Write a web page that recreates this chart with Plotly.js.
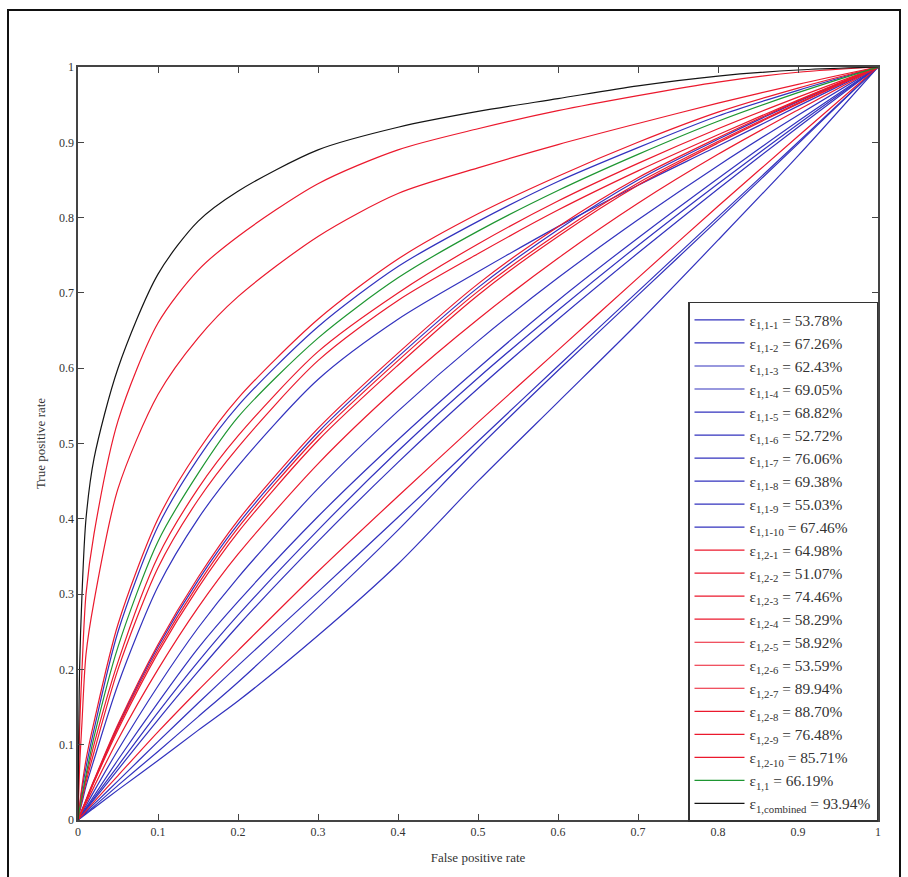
<!DOCTYPE html>
<html>
<head>
<meta charset="utf-8">
<script src="https://cdn.plot.ly/plotly-3.0.1.min.js"></script>
<style>html,body{margin:0;padding:0;background:#fff}#chart{width:908px;height:877px}</style>
</head>
<body>
<div id="chart"></div>
<script>
// False positive rate grid shared by all curves
const fpr = [0, 0.002, 0.005, 0.01, 0.02, 0.05, 0.1, 0.15, 0.2, 0.3, 0.4, 0.5, 0.6, 0.7, 0.8, 0.9, 1];

// Legend labels (subscript) and AUC values
const subs = ["1,1-1","1,1-2","1,1-3","1,1-4","1,1-5","1,1-6","1,1-7","1,1-8","1,1-9","1,1-10",
              "1,2-1","1,2-2","1,2-3","1,2-4","1,2-5","1,2-6","1,2-7","1,2-8","1,2-9","1,2-10",
              "1,1","1,combined"];
const auc = ["53.78","67.26","62.43","69.05","68.82","52.72","76.06","69.38","55.03","67.46",
             "64.98","51.07","74.46","58.29","58.92","53.59","89.94","88.70","76.48","85.71",
             "66.19","93.94"];

// True positive rates
const tpr_1_1  = [0, 0.0018, 0.0046, 0.0092, 0.018, 0.046, 0.091, 0.137, 0.183, 0.282, 0.385, 0.494, 0.597, 0.697, 0.797, 0.898, 1];
const tpr_1_2  = [0, 0.003, 0.0073, 0.0145, 0.029, 0.072, 0.143, 0.21, 0.272, 0.385, 0.49, 0.587, 0.677, 0.763, 0.845, 0.924, 1];
const tpr_1_3  = [0, 0.0027, 0.0067, 0.0134, 0.027, 0.067, 0.133, 0.197, 0.258, 0.37, 0.475, 0.573, 0.665, 0.753, 0.838, 0.92, 1];
const tpr_1_4  = [0, 0.0054, 0.0132, 0.026, 0.052, 0.125, 0.23, 0.318, 0.393, 0.515, 0.615, 0.707, 0.784, 0.85, 0.904, 0.954, 1];
const tpr_1_5  = [0, 0.0038, 0.0095, 0.019, 0.038, 0.093, 0.178, 0.255, 0.322, 0.44, 0.543, 0.636, 0.72, 0.797, 0.869, 0.936, 1];
const tpr_1_6  = [0, 0.0016, 0.004, 0.008, 0.016, 0.04, 0.079, 0.119, 0.158, 0.245, 0.34, 0.45, 0.555, 0.66, 0.77, 0.882, 1];
const tpr_1_7  = [0, 0.018, 0.04, 0.07, 0.12, 0.25, 0.39, 0.48, 0.55, 0.655, 0.735, 0.795, 0.848, 0.893, 0.935, 0.969, 1];
const tpr_1_8  = [0, 0.01, 0.023, 0.045, 0.08, 0.18, 0.31, 0.40, 0.47, 0.585, 0.665, 0.728, 0.788, 0.843, 0.895, 0.948, 1];
const tpr_1_9  = [0, 0.0021, 0.0052, 0.0105, 0.021, 0.052, 0.104, 0.155, 0.205, 0.303, 0.402, 0.503, 0.603, 0.702, 0.801, 0.9, 1];
const tpr_1_10 = [0, 0.0032, 0.008, 0.016, 0.032, 0.08, 0.156, 0.228, 0.29, 0.403, 0.505, 0.60, 0.69, 0.773, 0.852, 0.928, 1];
const tpr_2_1  = [0, 0.0055, 0.0135, 0.027, 0.053, 0.127, 0.233, 0.322, 0.398, 0.52, 0.62, 0.712, 0.788, 0.853, 0.906, 0.955, 1];
const tpr_2_2  = [0, 0.0024, 0.006, 0.012, 0.024, 0.059, 0.117, 0.172, 0.225, 0.33, 0.43, 0.528, 0.624, 0.72, 0.815, 0.908, 1];
const tpr_2_3  = [0, 0.012, 0.027, 0.05, 0.09, 0.20, 0.335, 0.425, 0.495, 0.61, 0.69, 0.752, 0.81, 0.862, 0.91, 0.956, 1];
const tpr_2_4  = [0, 0.0052, 0.0127, 0.025, 0.05, 0.12, 0.222, 0.308, 0.382, 0.504, 0.604, 0.697, 0.775, 0.843, 0.899, 0.951, 1];
const tpr_2_5  = [0, 0.0053, 0.013, 0.0255, 0.051, 0.123, 0.226, 0.313, 0.388, 0.51, 0.61, 0.702, 0.779, 0.846, 0.901, 0.952, 1];
const tpr_2_6  = [0, 0.0045, 0.011, 0.022, 0.044, 0.107, 0.2, 0.282, 0.353, 0.473, 0.575, 0.665, 0.746, 0.819, 0.884, 0.943, 1];
const tpr_2_7  = [0, 0.12, 0.2, 0.30, 0.38, 0.53, 0.66, 0.73, 0.775, 0.845, 0.89, 0.918, 0.942, 0.962, 0.98, 0.993, 1];
const tpr_2_8  = [0, 0.07, 0.13, 0.22, 0.29, 0.44, 0.565, 0.64, 0.695, 0.775, 0.832, 0.866, 0.897, 0.925, 0.952, 0.977, 1];
const tpr_2_9  = [0, 0.013, 0.03, 0.055, 0.10, 0.21, 0.35, 0.44, 0.51, 0.622, 0.70, 0.765, 0.822, 0.872, 0.918, 0.96, 1];
const tpr_2_10 = [0, 0.02, 0.045, 0.08, 0.13, 0.26, 0.40, 0.49, 0.56, 0.665, 0.745, 0.805, 0.855, 0.9, 0.94, 0.972, 1];
const tpr_1    = [0, 0.015, 0.032, 0.06, 0.11, 0.23, 0.37, 0.46, 0.535, 0.64, 0.72, 0.782, 0.836, 0.884, 0.928, 0.966, 1];
const tpr_comb = [0, 0.2, 0.3, 0.40, 0.48, 0.60, 0.725, 0.795, 0.835, 0.89, 0.92, 0.941, 0.958, 0.975, 0.988, 0.996, 1];

const tprs = [tpr_1_1, tpr_1_2, tpr_1_3, tpr_1_4, tpr_1_5, tpr_1_6, tpr_1_7, tpr_1_8, tpr_1_9, tpr_1_10,
              tpr_2_1, tpr_2_2, tpr_2_3, tpr_2_4, tpr_2_5, tpr_2_6, tpr_2_7, tpr_2_8, tpr_2_9, tpr_2_10,
              tpr_1, tpr_comb];

const BLUE = 'rgb(50,50,190)', RED = 'rgb(235,25,45)', GREEN = 'rgb(30,150,50)', BLACK = 'rgb(20,20,20)';
const colorOf = i => i < 10 ? BLUE : (i < 20 ? RED : (i === 20 ? GREEN : BLACK));

const traces = tprs.map((t, i) => ({
  x: fpr, y: t, type: 'scatter', mode: 'lines',
  line: {color: colorOf(i), width: 1.2, shape: 'spline', smoothing: 0.8},
  name: 'ε<sub>' + subs[i] + '</sub> = ' + auc[i] + '%'
}));

const FONT = '"Liberation Serif", "Times New Roman", serif';
const axisCommon = {
  range: [0, 1], dtick: 0.1, tick0: 0, ticks: 'inside', ticklen: 6, tickwidth: 1,
  tickcolor: '#444', showline: true, linecolor: '#444', linewidth: 1.6, mirror: 'ticks',
  showgrid: false, zeroline: false, tickfont: {family: FONT, size: 12, color: '#333'}
};

const layout = {
  width: 908, height: 877,
  margin: {l: 78, r: 30, t: 67, b: 57},
  paper_bgcolor: '#fff', plot_bgcolor: '#fff',
  font: {family: FONT, color: '#333'},
  xaxis: Object.assign({}, axisCommon, {title: {text: 'False positive rate', font: {family: FONT, size: 13, color: '#333'}, standoff: 15}}),
  yaxis: Object.assign({}, axisCommon, {title: {text: 'True positive rate', font: {family: FONT, size: 13, color: '#333'}, standoff: 10}}),
  showlegend: true,
  legend: {x: 1, y: 0.688, xanchor: 'right', yanchor: 'top', bgcolor: '#fff',
           bordercolor: '#333', borderwidth: 1.5, font: {family: FONT, size: 15.4, color: '#333'},
           tracegroupgap: 0, itemwidth: 50},
  shapes: [{type: 'rect', xref: 'paper', yref: 'paper', x0: -0.0875, x1: 1.0275, y0: -0.2, y1: 1.0757,
            line: {color: '#111', width: 2}, fillcolor: 'rgba(0,0,0,0)'}]
};

Plotly.newPlot('chart', traces, layout, {displayModeBar: false, staticPlot: true});
</script>
</body>
</html>
